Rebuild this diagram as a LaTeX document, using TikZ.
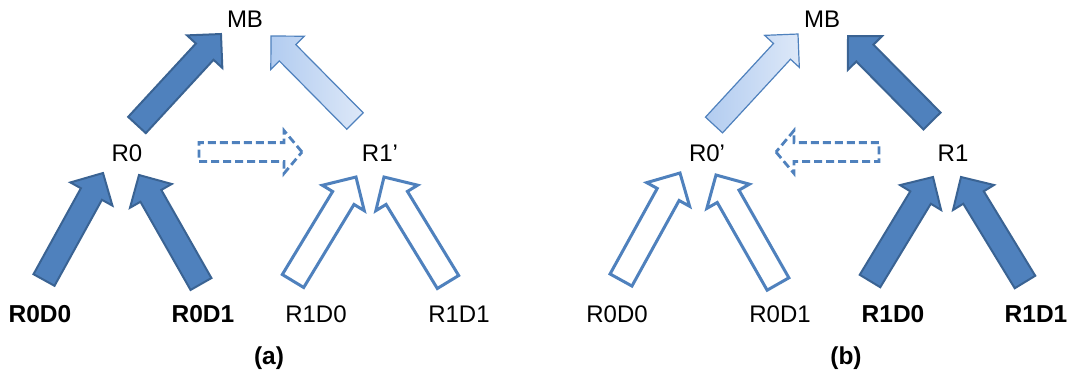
\documentclass[tikz,border=0pt]{standalone}
\usepackage{fontspec}
\setmainfont{Liberation Sans}
\usetikzlibrary{shapes.arrows,calc}
\definecolor{blau}{HTML}{4F81BD}
\definecolor{dunkelblau}{HTML}{3A6393}
\definecolor{hellblau}{HTML}{DDE8F8}
\definecolor{mittelblau}{HTML}{B2CCF0}
\tikzset{
	pfeil/.style={single arrow,single arrow head extend=12pt,
		single arrow tip angle=90,inner xsep=0pt,inner ysep=11pt,outer sep=0pt},
	voll/.style={pfeil,fill=blau,draw=dunkelblau,line width=2pt},
	hohl/.style={pfeil,fill=white,draw=blau,line width=3pt},
	hell/.style={pfeil,draw=blau,line width=1.2pt,left color=mittelblau,right color=hellblau},
	strichpfeil/.style={pfeil,draw=blau,line width=2.8pt,dash pattern=on 8pt off 4pt,
		inner ysep=8pt,single arrow head extend=12pt,single arrow tip angle=100},
	txt/.style={font=\fontsize{24}{28}\selectfont,inner sep=0pt},
	fett/.style={txt,font=\fontsize{24.5}{28}\selectfont\bfseries}
}
\begin{document}
\begin{tikzpicture}[x=1pt,y=-1pt]
\useasboundingbox (0,0) rectangle (1081,376);
\def\pfeil#1#2#3#4{
	\path let \p1=($(#4)-(#3)$), \n1={atan2(\y1,\x1)}, \n2={veclen(\x1,\y1)} in
		node[#2,minimum height=\n2,rotate=\n1,anchor=tail] (#1) at (#3) {};
}
% (a)
\node[txt] (aMB) at (245,19) {MB};
\node[txt] (aR0) at (127,153) {R0};
\node[txt] (aR1) at (380,153) {R1’};
\node[fett] (aR0D0) at (40,314) {R0D0};
\node[fett] (aR0D1) at (203,314) {R0D1};
\node[txt] (aR1D0) at (316,314) {R1D0};
\node[txt] (aR1D1) at (459,314) {R1D1};
\node[fett] (acap) at (269,358) {(a)};
\coordinate (a1s) at (137,125); \coordinate (a1e) at (221,34);
\coordinate (a2s) at (355,121); \coordinate (a2e) at (271,36);
\coordinate (a3s) at (44,280);  \coordinate (a3e) at (103,173);
\coordinate (a4s) at (201,284); \coordinate (a4e) at (139,175);
\coordinate (a5s) at (293,281); \coordinate (a5e) at (356,177);
\coordinate (a6s) at (448,282); \coordinate (a6e) at (384,177);
\coordinate (a7s) at (199,152); \coordinate (a7e) at (302,152);
\pfeil{ap1}{voll}{a1s}{a1e}
\pfeil{ap2}{hell}{a2s}{a2e}
\pfeil{ap3}{voll}{a3s}{a3e}
\pfeil{ap4}{voll}{a4s}{a4e}
\pfeil{ap5}{hohl}{a5s}{a5e}
\pfeil{ap6}{hohl}{a6s}{a6e}
\pfeil{ap7}{strichpfeil}{a7s}{a7e}
% (b)
\begin{scope}[xshift=577pt]
\node[txt] (bMB) at (245,19) {MB};
\node[txt] (bR0) at (130,153) {R0’};
\node[txt] (bR1) at (376,153) {R1};
\node[txt] (bR0D0) at (40,314) {R0D0};
\node[txt] (bR0D1) at (203,314) {R0D1};
\node[fett] (bR1D0) at (316,314) {R1D0};
\node[fett] (bR1D1) at (459,314) {R1D1};
\node[fett] (bcap) at (269,358) {(b)};
\coordinate (b1s) at (137,125); \coordinate (b1e) at (221,34);
\coordinate (b2s) at (355,121); \coordinate (b2e) at (271,36);
\coordinate (b3s) at (44,280);  \coordinate (b3e) at (103,173);
\coordinate (b4s) at (201,284); \coordinate (b4e) at (139,175);
\coordinate (b5s) at (293,281); \coordinate (b5e) at (356,177);
\coordinate (b6s) at (448,282); \coordinate (b6e) at (384,177);
\coordinate (b7s) at (302,152); \coordinate (b7e) at (199,152);
\end{scope}
\pfeil{bp1}{hell}{b1s}{b1e}
\pfeil{bp2}{voll}{b2s}{b2e}
\pfeil{bp3}{hohl}{b3s}{b3e}
\pfeil{bp4}{hohl}{b4s}{b4e}
\pfeil{bp5}{voll}{b5s}{b5e}
\pfeil{bp6}{voll}{b6s}{b6e}
\pfeil{bp7}{strichpfeil}{b7s}{b7e}
\end{tikzpicture}
\end{document}
